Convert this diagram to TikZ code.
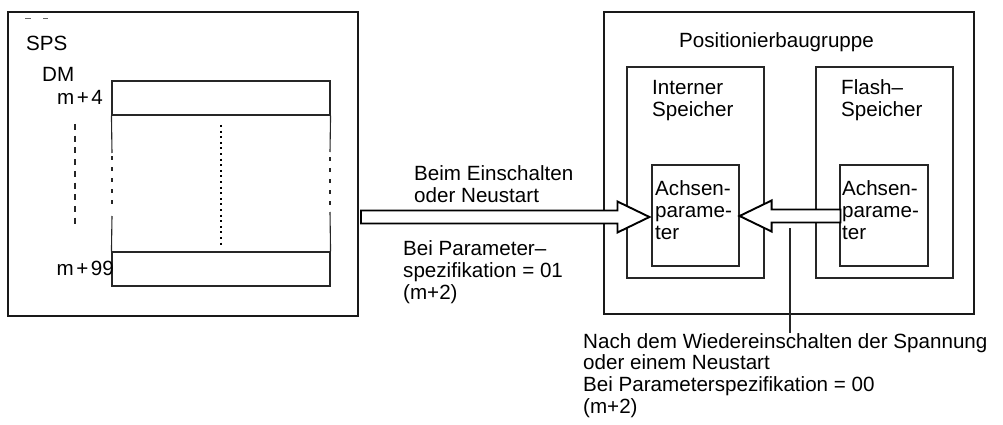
\documentclass[tikz,border=0pt]{standalone}
\usepackage{fontspec}
\setmainfont{Liberation Sans}
\usetikzlibrary{calc}
\newcommand{\fatarrowdraw}[3]{%
  \draw[fat] ($(#1)+(0,-6.5)$) -- ($(#2)+({-32*#3},-6.5)$) -- ($(#2)+({-32*#3},-15.5)$) -- (#2)
    -- ($(#2)+({-32*#3},15.5)$) -- ($(#2)+({-32*#3},6.5)$) -- ($(#1)+(0,6.5)$) -- cycle;}
\begin{document}
\begin{tikzpicture}[x=1pt,y=-1pt,
  thickbox/.style={draw=black!90, line width=2pt, inner sep=0pt},
  thinbox/.style={draw=black!85, line width=1.1pt, inner sep=0pt},
  cellline/.style={draw=black!85, line width=1.1pt},
  txt/.style={inner sep=0pt, anchor=base west, align=left, font=\fontsize{20.6}{22}\selectfont},
  smalltxt/.style={inner sep=0pt, anchor=base east, font=\fontsize{20.6}{22}\selectfont},
  fat/.style={draw=black, line width=1.9pt, fill=white, line join=miter},
  callout/.style={draw=black!85, line width=1.1pt}]
\useasboundingbox (0,0) rectangle (1003,425);

% SPS side
\node[thickbox, minimum width=350pt, minimum height=304pt] (sps) at (183,164) {};
\draw[line width=0.8pt, black!60] (25,18) -- (31,18) (43,18) -- (48,18);
\node[txt] (spslabel) at (26,51) {SPS};
\node[txt] (dm) at (42,82) {DM};
\node[thinbox, minimum width=218pt, minimum height=34pt] (r4) at (221,98) {};
\node[thinbox, minimum width=218pt, minimum height=34pt] (r99) at (221,269) {};
\node[smalltxt] (m4) at (103,105) {m\kern2.5pt+\kern2.5pt4};
\node[smalltxt] (m99) at (114,275) {m\kern2.5pt+\kern2.5pt99};
\draw[cellline] (r4.south west) -- (112,153);
\draw[cellline, dash pattern=on 4pt off 7pt] (112,156) -- (112,210);
\draw[cellline] (112,216) -- (r99.north west);
\draw[cellline] (r4.south east) -- (330,152);
\draw[cellline, dash pattern=on 4pt off 7pt] (330,157) -- (330,207);
\draw[cellline] (330,212) -- (r99.north east);
\draw[cellline, dash pattern=on 6pt off 5.7pt] (75,124) -- (75,227);
\draw[draw=black, line width=1.6pt, dash pattern=on 2pt off 3.6pt] (221,125) -- (221,245);

% Positionierbaugruppe side
\node[thickbox, minimum width=370pt, minimum height=302pt] (pos) at (789,163) {};
\node[txt] (poslabel) at (679,48) {Positionierbaugruppe};
\node[thinbox, minimum width=137pt, minimum height=211pt] (intern) at (695.5,172.5) {};
\node[thinbox, minimum width=137pt, minimum height=211pt] (flash) at (884.5,172.5) {};
\node[txt] (internlabel) at (652,117) {Interner\\Speicher};
\node[txt] (flashlabel) at (841,117) {Flash--\\Speicher};
\node[thinbox, minimum width=87pt, minimum height=101pt] (ain) at (695.5,215.5) {};
\node[thinbox, minimum width=88pt, minimum height=101pt] (afl) at (884,215.5) {};
\node[txt] (ainlabel) at (655,239) {Achsen-\\parame-\\ter};
\node[txt] (afllabel) at (842,239) {Achsen-\\parame-\\ter};

% arrows
\coordinate (a1s) at ($(sps.east |- ain.west)+(2,1.5)$);
\coordinate (a1t) at ($(ain.west)+(-2,1.5)$);
\fatarrowdraw{a1s}{a1t}{1}
\coordinate (a2s) at ($(afl.west)+(1,0.5)$);
\coordinate (a2t) at ($(ain.east)+(0,0.5)$);
\fatarrowdraw{a2s}{a2t}{-1}

% labels
\node[txt] (beim) at (414,202) {Beim Einschalten\\oder Neustart};
\node[txt] (bei01) at (403,299) {Bei Parameter--\\spezifikation = 01\\(m+2)};
\node[txt, font=\fontsize{20.6}{21.6}\selectfont] (note) at (583,413) {Nach dem Wiedereinschalten der Spannung\\oder einem Neustart\\Bei Parameterspezifikation = 00\\(m+2)};
\coordinate (cs) at (790,228);
\draw[callout] (cs) -- (cs |- note.north);
\end{tikzpicture}
\end{document}
